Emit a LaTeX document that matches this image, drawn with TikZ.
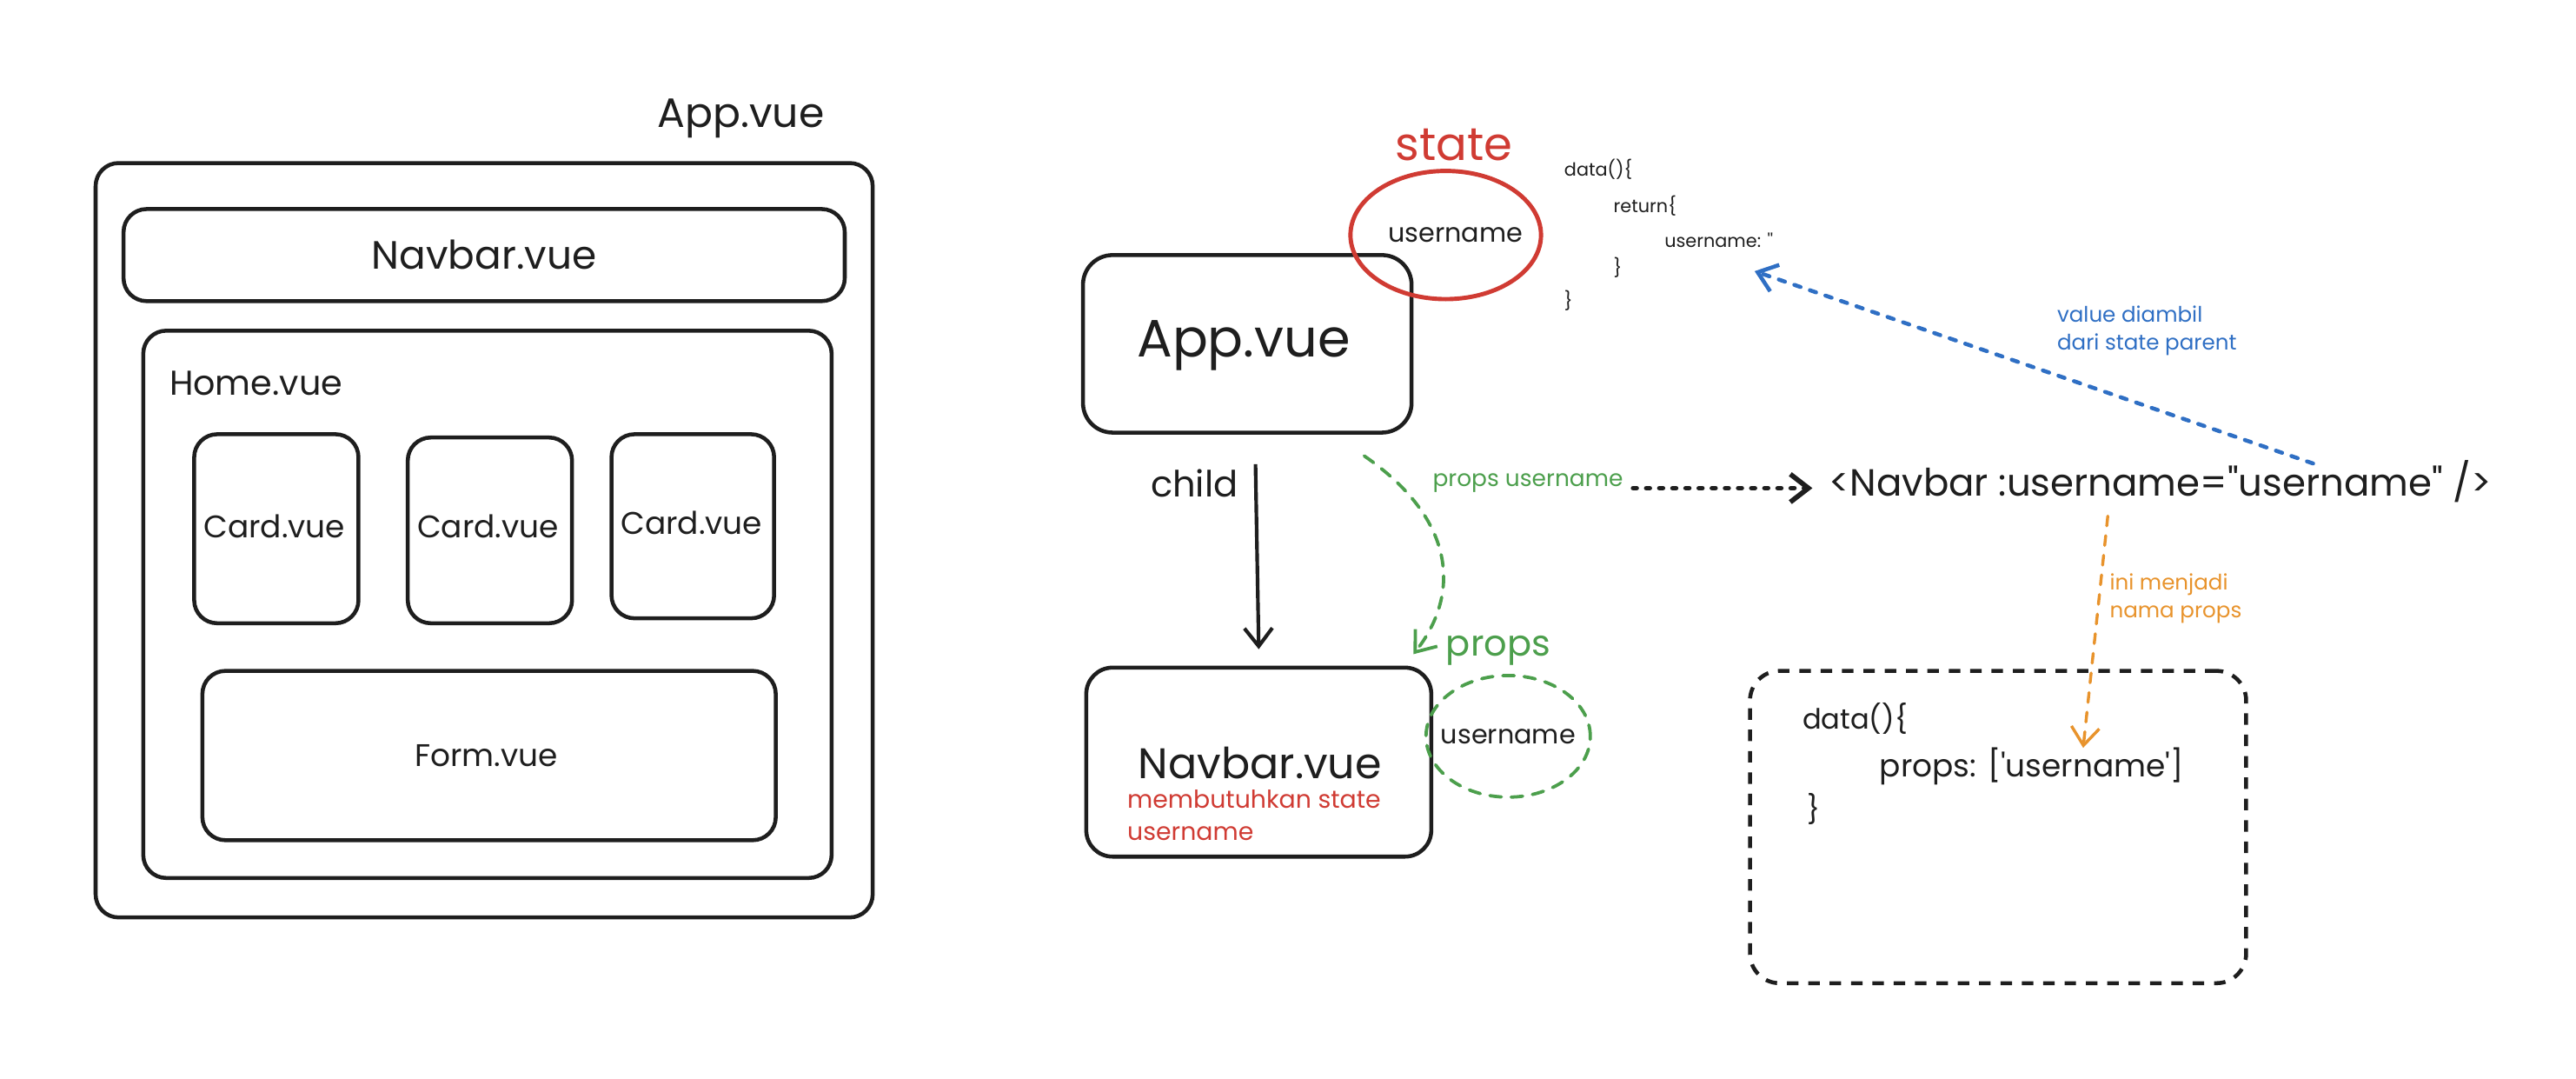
\documentclass[tikz,border=0pt]{standalone}
\usepackage{fontspec}
\setmainfont{Poppins}[Ligatures=TeXOff]
\usetikzlibrary{arrows.meta,shapes.geometric}

\definecolor{ink}{HTML}{1E1E1E}
\definecolor{sred}{HTML}{D03B33}
\definecolor{sgreen}{HTML}{4C9F4C}
\definecolor{sblue}{HTML}{2F6FC4}
\definecolor{sorange}{HTML}{E8932C}

\newcommand\fsz[1]{\fontsize{#1pt}{#1pt}\selectfont}

\tikzset{
  comp/.style={draw=ink, line width=2.4pt, rounded corners=14pt, inner sep=0pt, anchor=north west},
  txt/.style={text=ink, inner sep=0pt},
  barb/.style={-{Straight Barb[length=11pt,width=17pt]}},
  greendash/.style={draw=sgreen, line width=2pt, dash pattern=on 7pt off 6pt, line cap=round},
}

\begin{document}
\begin{tikzpicture}[x=1pt,y=-1pt]
\useasboundingbox[fill=white] (0,0) rectangle (1568,656);

% ---------- component tree ----------
\node[txt, font=\fsz{25}] (applbl) at (451,72) {App.vue};
\node[comp, minimum width=473pt, minimum height=459pt] (outer) at (57,98) {};
\node[comp, minimum width=439pt, minimum height=56pt] (navl) at (74,126) {};
\node[txt, font=\fsz{24}] at (navl.center) {Navbar.vue};
\node[comp, minimum width=419pt, minimum height=333pt] (home) at (86,200) {};
\node[txt, font=\fsz{21}, anchor=west] (homelbl) at (103,233) {Home.vue};
\node[comp, minimum width=100pt, minimum height=115pt] (card1) at (117,263) {};
\node[comp, minimum width=100pt, minimum height=113pt] (card2) at (247,265) {};
\node[comp, minimum width=99pt, minimum height=112pt] (card3) at (371,263) {};
\node[txt, font=\fsz{19}] (c1t) at (167,320) {Card.vue};
\node[txt, font=\fsz{19}] (c2t) at (297,320) {Card.vue};
\node[txt, font=\fsz{19}] (c3t) at (421,318) {Card.vue};
\node[comp, minimum width=349pt, minimum height=103pt] (form) at (122,407) {};
\node[txt, font=\fsz{19}] (formt) at (296,460) {Form.vue};

% ---------- parent / child ----------
\node[comp, rounded corners=18pt, minimum width=200pt, minimum height=108pt] (appbox) at (658,154) {};
\node[txt, font=\fsz{32}] (appt) at (757,210) {App.vue};

\node[draw=sred, line width=2.6pt, ellipse, minimum width=116pt, minimum height=78pt, inner sep=0pt] (stateell) at (880,143) {};
\node[txt, font=\fsz{16}] (stateuser) at (886,143) {username};
\node[text=sred, inner sep=0pt, font=\fsz{28}] (statelbl) at (885,88) {state};

\node[txt, font=\fsz{11}, anchor=west] (code1) at (952,103) {data()\{};
\node[txt, font=\fsz{11}, anchor=west] (code2) at (982,125) {return\{};
\node[txt, font=\fsz{11}, anchor=west] (code3) at (1013,146) {username: ''};
\node[txt, font=\fsz{11}, anchor=west] (code4) at (982,163) {\}};
\node[txt, font=\fsz{11}, anchor=west] (code5) at (952,183) {\}};

\node[comp, rounded corners=16pt, minimum width=210pt, minimum height=115pt] (navbox) at (660,405) {};
\node[txt, font=\fsz{26}] (navt) at (767,464) {Navbar.vue};
\node[text=sred, inner sep=0pt, font=\fsz{15}, anchor=west] (need1) at (686,486) {membutuhkan state};
\node[text=sred, inner sep=0pt, font=\fsz{15}, anchor=west] (need2) at (686,507) {username};

\node[greendash, ellipse, minimum width=100pt, minimum height=74pt, inner sep=0pt] (propsell) at (918,448) {};
\node[txt, font=\fsz{16}] (propsuser) at (918,448) {username};
\node[text=sgreen, inner sep=0pt, font=\fsz{22}] (propslbl) at (912,396) {props};

% child arrow
\node[txt, font=\fsz{22}] (childlbl) at (727,294) {child};
\draw[ink, line width=2.2pt, barb] ([xshift=5pt,yshift=-18pt]appbox.south) -- ([yshift=10pt]navbox.north);

% props passed down
\node[text=sgreen, inner sep=0pt, font=\fsz{14}] (propsname) at (930,294) {props username};
\draw[greendash, barb] ([xshift=-30pt,yshift=-13pt]appbox.south east)
  .. controls (885,315) and (890,360) .. ([xshift=-12pt,yshift=7pt]navbox.north east);

% template tag
\node[txt, font=\fsz{23}] (tag) at (1315,293) {<Navbar :username="username" />};
\draw[ink, line width=3pt, dash pattern=on 2pt off 6pt, line cap=round, barb]
  ([xshift=6pt,yshift=-3pt]propsname.east) -- ([xshift=-10pt,yshift=-4pt]tag.west);

% value taken from parent state
\coordinate (bluetip) at (1068,165);
\draw[sblue, line width=2.4pt, dash pattern=on 4pt off 6pt, line cap=round, barb]
  ([xshift=93pt,yshift=-2pt]tag.north) -- (bluetip);
\node[text=sblue, inner sep=0pt, font=\fsz{13}, anchor=west, align=left] (bluelbl) at (1252,201) {value diambil\\[4pt]dari state parent};

% props declaration
\node[draw=ink, line width=2.4pt, dash pattern=on 7pt off 6pt, rounded corners=18pt, minimum width=302pt, minimum height=190pt, inner sep=0pt, anchor=north west] (propsbox) at (1064,407) {};
\node[txt, font=\fsz{17}, anchor=west] (pcode1) at (1097,437) {data()\{};
\node[txt, font=\fsz{19}, anchor=west] (pcode2) at (1144,466) {props: ['username']};
\node[txt, font=\fsz{17}, anchor=west] (pcode3) at (1100,492) {\}};

\coordinate (orangetip) at (1268,455);
\draw[sorange, line width=1.8pt, dash pattern=on 6pt off 6pt, line cap=round, barb]
  ([xshift=-32pt,yshift=-8pt]tag.south) -- (orangetip);
\node[text=sorange, inner sep=0pt, font=\fsz{13}, anchor=west, align=left] (orlbl) at (1284,364) {ini menjadi\\[4pt]nama props};

\end{tikzpicture}
\end{document}
